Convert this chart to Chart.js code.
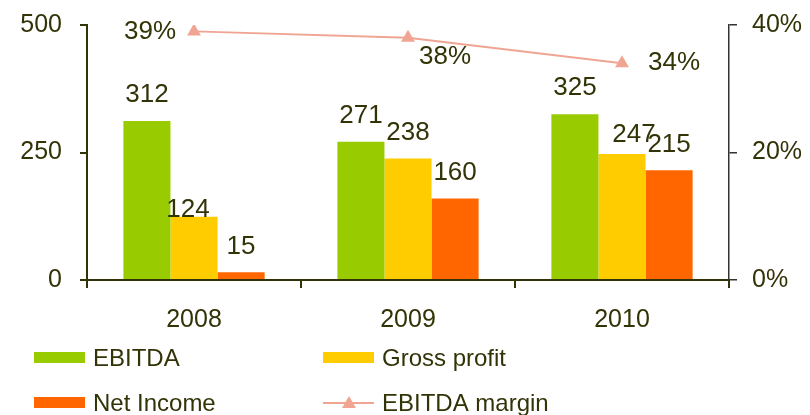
<!DOCTYPE html>
<html>
<head>
<meta charset="utf-8">
<script src="https://cdn.jsdelivr.net/npm/chart.js@4/dist/chart.umd.min.js"></script>
<style>
  html, body { margin: 0; padding: 0; background: #fff; }
  #wrap { width: 810px; height: 415px; position: relative; }
</style>
</head>
<body>
<div id="wrap"><canvas id="chart" width="810" height="415"></canvas></div>
<script>
const years = ['2008', '2009', '2010'];
const ebitda = [312, 271, 325];
const grossProfit = [124, 238, 247];
const netIncome = [15, 160, 215];
const ebitdaMargin = [0.39, 0.38, 0.34];
const leftTicks = [0, 250, 500];
const rightTicks = [0, 0.2, 0.4];

const textColor = '#333308';
const fontFamily = '"Liberation Sans", Arial, sans-serif';

// small hand nudges for labels that were moved in the original
const labelNudge = {
    '1-0': [-6, 19],
    '1-2': [12, 7]
};
const lineLabelPos = [[-44, 0], [37, 19], [52, 0]];

const dataLabels = {
    id: 'dataLabels',
    afterDatasetsDraw(chart) {
        const ctx = chart.ctx;
        ctx.save();
        ctx.fillStyle = textColor;
        ctx.font = '26px ' + fontFamily;
        ctx.textAlign = 'center';
        ctx.textBaseline = 'middle';
        chart.data.datasets.forEach((ds, i) => {
            const meta = chart.getDatasetMeta(i);
            meta.data.forEach((el, j) => {
                if (ds.type === 'line') {
                    const p = lineLabelPos[j];
                    ctx.fillText(Math.round(ds.data[j] * 100) + '%', el.x + p[0], el.y + p[1]);
                } else {
                    const n = labelNudge[i + '-' + j] || [0, 0];
                    ctx.fillText(ds.data[j], el.x + n[0], el.y - 26 + n[1]);
                }
            });
        });
        ctx.restore();
    }
};

const bottomLegend = {
    id: 'bottomLegend',
    afterDraw(chart) {
        const ctx = chart.ctx;
        const cols = [34, 323];
        const rows = [358, 403];
        ctx.save();
        ctx.font = '24px ' + fontFamily;
        ctx.textBaseline = 'middle';
        ctx.textAlign = 'left';
        chart.data.datasets.forEach((ds, i) => {
            const x = cols[i % 2];
            const y = rows[Math.floor(i / 2)];
            if (ds.type === 'line') {
                ctx.strokeStyle = ds.borderColor;
                ctx.lineWidth = 2;
                ctx.beginPath();
                ctx.moveTo(x, y);
                ctx.lineTo(x + 51, y);
                ctx.stroke();
                ctx.fillStyle = ds.borderColor;
                ctx.beginPath();
                ctx.moveTo(x + 26, y - 7);
                ctx.lineTo(x + 33, y + 5);
                ctx.lineTo(x + 19, y + 5);
                ctx.closePath();
                ctx.fill();
            } else {
                ctx.fillStyle = ds.backgroundColor;
                ctx.fillRect(x, y - 6, 51, 11);
            }
            ctx.fillStyle = textColor;
            ctx.fillText(ds.label, x + 59, y + 1);
        });
        ctx.restore();
    }
};

new Chart(document.getElementById('chart'), {
    data: {
        labels: years,
        datasets: [
            { type: 'bar', label: 'EBITDA', data: ebitda, backgroundColor: '#99cc00', yAxisID: 'y', order: 2 },
            { type: 'bar', label: 'Gross profit', data: grossProfit, backgroundColor: '#ffcc00', yAxisID: 'y', order: 2 },
            { type: 'bar', label: 'Net Income', data: netIncome, backgroundColor: '#ff6600', yAxisID: 'y', order: 2 },
            {
                type: 'line', label: 'EBITDA margin', data: ebitdaMargin, yAxisID: 'y1', order: 1,
                borderColor: '#f0a593', backgroundColor: '#f0a593', borderWidth: 2,
                pointStyle: 'triangle', pointRadius: 8, pointBackgroundColor: '#f0a593', pointBorderWidth: 0
            }
        ]
    },
    options: {
        responsive: false,
        animation: false,
        layout: { padding: { top: 25, left: 0, right: 0, bottom: 0 } },
        datasets: { bar: { barPercentage: 1, categoryPercentage: 0.66 } },
        plugins: { legend: { display: false }, tooltip: { enabled: false } },
        scales: {
            x: {
                grid: { display: true, drawOnChartArea: false, offset: true, tickLength: 8, color: '#33330a', lineWidth: 2 },
                border: { color: '#33330a', width: 2 },
                ticks: { color: textColor, font: { size: 25, family: fontFamily }, padding: 17 },
                afterFit(s) { s.height = 135; s.paddingLeft = 0; s.paddingRight = 0; }
            },
            y: {
                position: 'left', min: 0, max: 500,
                afterBuildTicks(s) { s.ticks = leftTicks.map(v => ({ value: v })); },
                grid: { drawOnChartArea: false, tickLength: 7, color: '#33330a', lineWidth: 2 },
                border: { color: '#33330a', width: 2 },
                ticks: { color: textColor, font: { size: 25, family: fontFamily }, padding: 18 },
                afterFit(s) { s.width = 87; s.paddingTop = 0; s.paddingBottom = 0; }
            },
            y1: {
                position: 'right', min: 0, max: 0.4,
                afterBuildTicks(s) { s.ticks = rightTicks.map(v => ({ value: v })); },
                grid: { drawOnChartArea: false, tickLength: 8, color: '#333', lineWidth: 1.5 },
                border: { color: '#333', width: 1.5 },
                ticks: {
                    color: textColor, font: { size: 25, family: fontFamily }, padding: 15,
                    callback: v => Math.round(v * 100) + '%'
                },
                afterFit(s) { s.width = 81; s.paddingTop = 0; s.paddingBottom = 0; }
            }
        }
    },
    plugins: [dataLabels, bottomLegend]
});
</script>
</body>
</html>
